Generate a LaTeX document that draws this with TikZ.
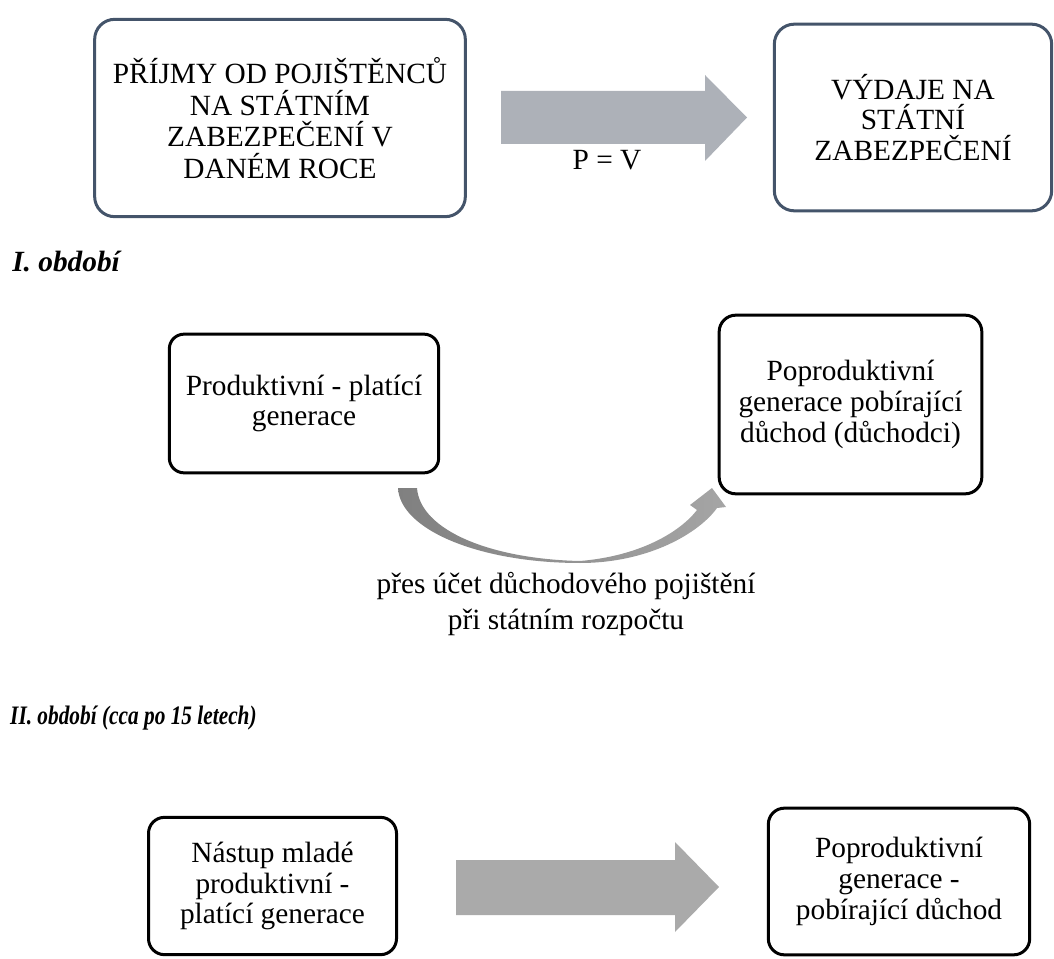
\documentclass[tikz,border=0pt]{standalone}
\usepackage{fontspec}
\setmainfont{Liberation Serif}
\definecolor{slate}{RGB}{68,84,106}
\definecolor{arrowA}{RGB}{173,177,184}
\definecolor{arrowB}{RGB}{170,170,170}
\definecolor{curveL}{RGB}{128,128,128}
\definecolor{curveM}{RGB}{228,228,228}
\definecolor{curveR}{RGB}{165,165,165}
\newcommand\txtsize{\fontsize{22}{23}\selectfont}
\begin{document}
\begin{tikzpicture}[x=0.75pt,y=-0.75pt,
  topbox/.style={draw=slate, line width=2.25pt, rounded corners=15pt, align=center, font=\txtsize, inner sep=0pt},
  genbox/.style={draw=black, line width=2.25pt, rounded corners=12pt, align=center, font=\txtsize, inner sep=0pt},
  heading/.style={anchor=base west, inner sep=0pt, font=\txtsize\bfseries\itshape},
  plain/.style={inner sep=0pt, align=center, font=\txtsize}]
\useasboundingbox (0,0) rectangle (1054,959);

% row 1
\node[topbox, minimum width=278pt, minimum height=148pt, font=\fontsize{22}{23.75}\selectfont] (inc) at (280,118)
  {PŘÍJMY OD POJIŠTĚNCŮ\\NA STÁTNÍM\\ZABEZPEČENÍ V\\DANÉM ROCE};
\node[topbox, minimum width=208pt, minimum height=140pt] (exp) at (913,117.5)
  {VÝDAJE NA\\STÁTNÍ\\ZABEZPEČENÍ};
\fill[arrowA] (501,91) -- (705,91) -- (705,75) -- (747,117.5) -- (705,161) -- (705,144) -- (501,144) -- cycle;
\node[plain, anchor=base] (pv) at (607,170) {P = V};

% period I
\node[heading] (h1) at (12,272) {I. období};
\node[genbox, minimum width=202pt, minimum height=104pt, rounded corners=11pt] (prod) at (304,403.5)
  {Produktivní - platící\\generace};
\node[genbox, minimum width=197pt, minimum height=134pt, rounded corners=12.5pt] (post) at (850.5,404.5)
  {Poproduktivní\\generace pobírající\\důchod (důchodci)};
\shade[left color=curveL, middle color=curveM, right color=curveR]
  (398,488) .. controls (400,530) and (480,563) .. (580,563)
  .. controls (650,563) and (700,532) .. (717,508)
  -- (726,507) -- (712,488) -- (690,505) -- (697,510)
  .. controls (680,532) and (640,556) .. (580,561)
  .. controls (490,559) and (420,530) .. (417,488) -- cycle;
\node[plain, font=\fontsize{22}{27.5}\selectfont] (acct) at (566,604)
  {přes účet důchodového pojištění\\při státním rozpočtu};

% period II
\node[heading, font=\fontsize{20}{22}\selectfont\bfseries\itshape, xscale=0.8] (h2) at (10,724) {II. období (cca po 15 letech)};
\node[genbox, minimum width=186pt, minimum height=103pt] (young) at (272.5,886)
  {Nástup mladé\\produktivní -\\platící generace};
\node[genbox, minimum width=196pt, minimum height=110pt] (retired) at (899,881.5)
  {Poproduktivní\\generace -\\pobírající důchod};
\fill[arrowB] (456,860) -- (675,860) -- (675,842) -- (719,887) -- (675,932) -- (675,915) -- (456,915) -- cycle;
\end{tikzpicture}
\end{document}
